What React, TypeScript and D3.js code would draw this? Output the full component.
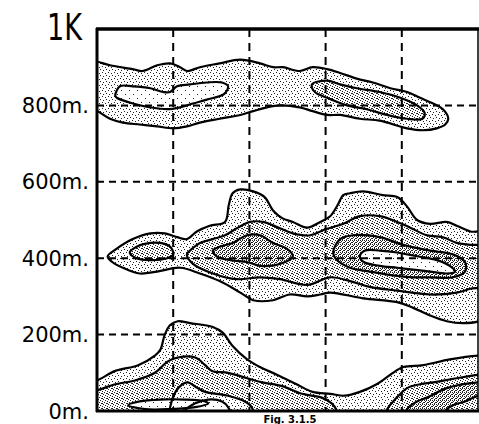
import * as d3 from "d3";

type Pt = [number, number];
type Contour = { level: number; pts: Pt[] };

// x in grid units (the original has no x labels), heights in metres
const yTicks = [0, 200, 400, 600, 800];
const yTickLabels = ["0m.", "200m.", "400m.", "600m.", "800m."];
const topTick = 1000;
const topTickLabel = "1K";
const xGrid = [1, 2, 3, 4];
const caption = "Fig. 3.1.5";

const upperBand: Contour[] = [
  { level: 1, pts: [[-0.12,920],[0,915],[0.17,905],[0.47,895],[0.60,890],[0.79,905],[0.96,910],[1.09,900],[1.18,890],[1.35,900],[1.61,910],[1.88,920],[2.14,910],[2.31,900],[2.44,900],[2.66,890],[2.83,900],[3.02,895],[3.19,885],[3.41,870],[3.62,860],[3.85,845],[4.07,835],[4.24,820],[4.41,805],[4.54,790],[4.61,765],[4.57,750],[4.46,740],[4.28,735],[4.07,740],[3.71,760],[3.45,765],[3.19,775],[3.02,775],[2.83,785],[2.66,795],[2.40,800],[2.23,795],[2.05,785],[1.88,775],[1.61,765],[1.35,755],[1.18,745],[1.00,740],[0.79,745],[0.56,750],[0.34,755],[0.17,765],[0,785],[-0.12,790]] },
  { level: 4, pts: [[0.24,825],[0.30,850],[0.47,850],[0.70,845],[0.87,835],[0.96,835],[1.05,850],[1.22,855],[1.44,860],[1.64,860],[1.72,850],[1.67,830],[1.44,815],[1.26,805],[1.09,795],[0.92,790],[0.70,795],[0.47,805],[0.26,820]] },
  { level: 2, pts: [[2.82,855],[3.02,865],[3.19,855],[3.41,845],[3.71,835],[3.98,820],[4.20,800],[4.30,780],[4.27,765],[4.07,765],[3.81,775],[3.54,790],[3.28,800],[3.02,820],[2.86,835]] },
];

const middleBand: Contour[] = [
  { level: 1, pts: [[0.14,405],[0.26,425],[0.47,450],[0.70,465],[0.89,465],[1.05,455],[1.18,450],[1.31,470],[1.48,485],[1.68,495],[1.73,540],[1.78,570],[1.88,580],[2.05,575],[2.20,560],[2.31,525],[2.43,505],[2.57,495],[2.76,480],[2.93,495],[3.06,510],[3.16,540],[3.23,565],[3.32,570],[3.49,575],[3.75,565],[3.94,560],[4.07,535],[4.20,500],[4.37,490],[4.59,495],[4.72,485],[4.90,470],[5.09,465],[5.09,245],[5.01,235],[4.80,230],[4.59,235],[4.37,250],[4.15,270],[3.94,285],[3.49,295],[3.06,310],[2.93,305],[2.76,300],[2.53,305],[2.31,290],[2.05,290],[1.88,310],[1.61,340],[1.35,360],[1.09,375],[0.79,365],[0.56,360],[0.34,375],[0.20,390]] },
  { level: 2, pts: [[0.43,415],[0.52,430],[0.70,440],[0.83,440],[0.96,430],[1.00,410],[0.92,400],[0.70,395],[0.52,400]] },
  { level: 2, pts: [[1.18,410],[1.25,425],[1.35,440],[1.52,450],[1.68,460],[1.85,480],[2.01,495],[2.18,495],[2.38,480],[2.57,465],[2.80,460],[2.99,475],[3.23,490],[3.45,510],[3.71,510],[3.94,495],[4.11,480],[4.33,460],[4.54,455],[4.72,440],[4.90,435],[5.09,430],[5.09,330],[4.90,320],[4.72,310],[4.37,305],[3.94,315],[3.58,325],[3.32,340],[3.06,350],[2.76,330],[2.40,345],[2.14,350],[1.84,345],[1.52,360],[1.26,385]] },
  { level: 3, pts: [[1.52,420],[1.61,430],[1.78,440],[1.97,460],[2.14,460],[2.31,440],[2.49,425],[2.57,405],[2.40,385],[2.14,380],[1.97,390],[1.75,395],[1.57,405]] },
  { level: 3, pts: [[3.10,415],[3.19,450],[3.36,460],[3.71,455],[4.02,435],[4.37,420],[4.67,410],[4.83,390],[4.83,365],[4.67,350],[4.37,350],[4.15,350],[3.88,355],[3.58,365],[3.32,375],[3.15,395]] },
  { level: 4, pts: [[3.45,405],[3.52,420],[3.71,420],[3.94,415],[4.20,405],[4.46,395],[4.63,380],[4.70,365],[4.59,360],[4.37,365],[4.15,370],[3.94,375],[3.71,380],[3.50,390]] },
];

const lowerBand: Contour[] = [
  { level: 1, pts: [[-0.12,75],[0,80],[0.24,105],[0.54,120],[0.76,145],[0.83,160],[0.89,200],[0.96,225],[1.06,235],[1.22,230],[1.52,220],[1.65,205],[1.78,170],[1.97,135],[2.14,115],[2.36,95],[2.62,70],[2.83,50],[3.06,45],[3.25,40],[3.45,50],[3.67,70],[3.85,95],[4.02,115],[4.28,120],[4.63,135],[5.01,145],[5.09,145],[5.09,-40],[-0.12,-40]] },
  { level: 2, pts: [[-0.12,50],[0.01,55],[0.24,70],[0.50,80],[0.76,100],[0.93,130],[1.06,140],[1.29,140],[1.42,120],[1.51,105],[1.72,100],[1.90,90],[2.17,75],[2.43,65],[2.69,45],[2.95,35],[3.08,20],[3.15,0],[3.19,-40],[-0.12,-40]] },
  { level: 1, pts: [[0.96,-40],[0.96,10],[1.03,50],[1.12,70],[1.19,75],[1.32,60],[1.42,50],[1.72,40],[1.94,25],[2.03,10],[2.06,-40]] },
  { level: 4, pts: [[0.41,15],[0.56,25],[0.83,30],[1.15,30],[1.42,25],[1.46,20],[1.29,10],[0.96,5],[0.63,5]] },
  { level: 4, pts: [[1.12,-20],[1.15,0],[1.29,20],[1.46,30],[1.64,25],[1.72,10],[1.76,-20]] },
  { level: 2, pts: [[3.75,-40],[3.81,5],[3.91,30],[4.07,60],[4.24,70],[4.41,75],[4.70,85],[5.01,95],[5.09,95],[5.09,-40]] },
  { level: 3, pts: [[4.02,-40],[4.07,5],[4.20,25],[4.33,35],[4.59,60],[5.01,75],[5.09,75],[5.09,40],[5.01,40],[4.83,25],[4.67,15],[4.57,0],[4.53,-40]] },
];

const W = 479;
const H = 424;

export default function App() {
  const x = d3.scaleLinear().domain([0, 5]).range([97, 478]);
  const y = d3.scaleLinear().domain([0, 1000]).range([411, 29]);
  const line = d3
    .line<Pt>()
    .x(d => x(d[0]))
    .y(d => y(d[1]))
    .curve(d3.curveCatmullRomClosed.alpha(0.5));

  const contours = [...upperBand, ...middleBand, ...lowerBand];

  // stipple tiles standing in for the halftone of the scan
  const stipples: { id: string; size: number; dots: number[][] }[] = [
    { id: "st1", size: 6, dots: [[0, 0], [3, 1], [1, 4], [4, 3]] },
    { id: "st2", size: 5, dots: [[0, 0], [2, 1], [4, 2], [1, 3], [3, 4], [2, 3]] },
    { id: "st3", size: 4, dots: [[0, 0], [2, 0], [1, 1], [3, 2], [0, 2], [2, 3]] },
    { id: "st4", size: 8, dots: [[1, 2], [5, 6]] },
  ];
  const fillFor = (level: number) => `url(#st${level})`;

  return (
    <svg
      width={W}
      height={H}
      style={{ position: "absolute", left: 0, top: 0, background: "#fff" }}
      fontFamily="DejaVu Sans"
    >
      <defs>
        <clipPath id="plot">
          <rect x={x(0)} y={y(1000)} width={x(5) - x(0)} height={y(0) - y(1000)} />
        </clipPath>
        {stipples.map(p => (
          <pattern key={p.id} id={p.id} width={p.size} height={p.size} patternUnits="userSpaceOnUse">
            <rect width={p.size} height={p.size} fill="#fff" />
            {p.dots.map((d, i) => (
              <rect key={i} x={d[0]} y={d[1]} width={1} height={1} fill="#222" />
            ))}
          </pattern>
        ))}
      </defs>
      <rect width={W} height={H} fill="#fff" />

      <g clipPath="url(#plot)">
        {contours.map((c, i) => (
          <path key={"f" + i} d={line(c.pts) || ""} fill={fillFor(c.level)} stroke="none" />
        ))}

        {/* dashed grid */}
        {xGrid.map(v => (
          <line key={"gx" + v} x1={x(v)} x2={x(v)} y1={y(1000)} y2={y(0)}
            stroke="#000" strokeWidth={2} strokeDasharray="8 6" />
        ))}
        {yTicks.filter(v => v > 0).map(v => (
          <line key={"gy" + v} x1={x(0)} x2={x(5)} y1={y(v)} y2={y(v)}
            stroke="#000" strokeWidth={2} strokeDasharray="7 5" />
        ))}

        {contours.map((c, i) => (
          <path key={"s" + i} d={line(c.pts) || ""} fill="none" stroke="#000"
            strokeWidth={2.2} strokeLinejoin="round" />
        ))}
      </g>

      {/* frame */}
      <line x1={x(0)} x2={x(0)} y1={y(1000) - 1} y2={y(0) + 1} stroke="#000" strokeWidth={3} />
      <line x1={x(0) - 1} x2={W} y1={y(1000)} y2={y(1000)} stroke="#000" strokeWidth={3.5} />
      <line x1={x(0) - 1} x2={W} y1={y(0)} y2={y(0)} stroke="#000" strokeWidth={3} />
      <line x1={x(5)} x2={x(5)} y1={y(1000)} y2={y(0)} stroke="#000" strokeWidth={1.5} />

      {/* y labels */}
      {yTicks.map((v, i) => (
        <text key={"t" + v} x={89} y={y(v) + 7.5} textAnchor="end" fontSize={21} fill="#000">
          {yTickLabels[i]}
        </text>
      ))}
      <text x={82} y={y(topTick) + 11} textAnchor="end" fontSize={37} fill="#000"
        textLength={35} lengthAdjust="spacingAndGlyphs">
        {topTickLabel}
      </text>

      <text x={290} y={423} textAnchor="middle" fontSize={10} fontWeight="bold" fill="#000">
        {caption}
      </text>
    </svg>
  );
}
